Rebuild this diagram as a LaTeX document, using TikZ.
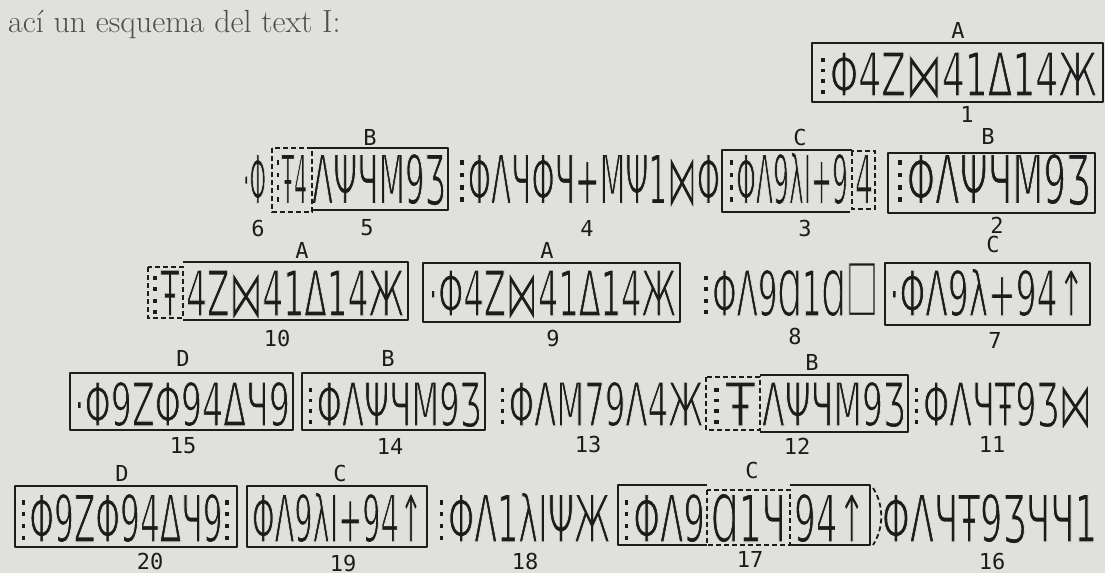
\documentclass[tikz,border=0pt]{standalone}
\usepackage{fontspec}
\usepackage{graphicx}
\newfontfamily\ib{DejaVu Sans}
\newfontfamily\lbf{DejaVu Sans Mono}
\definecolor{paper}{RGB}{224,224,220}
\definecolor{ink}{RGB}{28,28,28}
\definecolor{hdr}{RGB}{78,78,78}
\newcommand\thinit{\special{pdf:literal direct 2 Tr 0.878 0.878 0.863 RG 0.22 w}}
\newcommand\inkrg{\special{pdf:literal direct 0.11 0.11 0.11 RG}}
\newcommand\ibt[3]{\resizebox{#1pt}{#2pt}{\thinit\ib\smash{#3}\rule{0pt}{0.73em}}}
\newcommand\bw{\raisebox{-0.04em}{\scalebox{1}[1.12]{\thinit⋈}}\thinit}
\newcommand\sdot{\rule{0.11em}{0.065em}\kern-0.11em}
\newcommand\dts{\inkrg\kern0.08em\raisebox{0.03em}{\sdot}\raisebox{0.21em}{\sdot}\raisebox{0.39em}{\sdot}\raisebox{0.57em}{\sdot}\kern0.25em\thinit}
\newcommand\sq{\raisebox{0.14em}{\scalebox{1.1}{\thinit□}}\thinit}
\tikzset{
  gl/.style={anchor=base west, inner sep=0pt, outer sep=0pt, text=ink},
  lab/.style={inner sep=0pt, text=ink, font=\lbf\fontsize{22}{22}\selectfont},
  bx/.style={draw=ink, line width=2.2pt, line join=round},
  dbx/.style={draw=ink, line width=1.8pt, dash pattern=on 5pt off 3pt},
}
\begin{document}
\begin{tikzpicture}[x=1pt,y=-1pt]
\useasboundingbox (0,0) rectangle (1105,573);
\fill[paper] (0,0) rectangle (1105,573);
\node[anchor=base west, inner sep=0pt, text=hdr, font=\fontsize{32}{32}\selectfont] (hdr) at (8,32) {ací un esquema del text I:};

% row 1
\node[gl] (t1) at (818,96) {\ibt{279}{44}{\dts Φ4Z\bw41Δ14Ж}};
\draw[bx] (812,43) rectangle (1103,102);
\node[lab] (l1a) at (958,30) {A};
\node[lab] (l1b) at (967,114) {1};

% row 2
\node[gl] (t6) at (243,204) {\ibt{23}{50}{·Φ}};
\node[gl] (t5a) at (275,204) {\ibt{32}{50}{\dts Ŧ4}};
\node[gl] (t5) at (312,204) {\ibt{133}{50}{ΛΨЧΜ9Ʒ}};
\node[gl] (t4) at (458,204) {\ibt{262}{50}{\dts ΦΛЧΦЧ+ΜΨ1\bw Φ}};
\node[gl] (t3) at (728,204) {\ibt{120}{50}{\dts ΦΛ9λI+9}};
\node[gl] (t3a) at (855,204) {\ibt{18}{50}{4}};
\node[gl] (t2) at (895,204) {\ibt{195}{50}{\dts ΦΛΨЧΜ9Ʒ}};
\draw[dbx] (272,148) rectangle (312,212);
\draw[bx] (312,148) -- (448,148) -- (448,210) -- (312,210);
\draw[bx] (852,150) -- (722,150) -- (722,212) -- (850,212);
\draw[dbx] (852,151) rectangle (875,209);
\draw[bx] (888,153) rectangle (1095,213);
\node[lab] (l5a) at (370,137) {B};
\node[lab] (l3a) at (800,137) {C};
\node[lab] (l2a) at (988,136) {B};
\node[lab] (l6) at (258,228) {6};
\node[lab] (l5) at (367,228) {5};
\node[lab] (l4) at (587,228) {4};
\node[lab] (l3) at (805,228) {3};
\node[lab] (l2) at (997,225) {2};

% row 3
\node[gl] (t10a) at (151,316) {\ibt{28}{46}{\dts Ŧ}};
\node[gl] (t10) at (186,316) {\ibt{218}{46}{4Z\bw41Δ14Ж}};
\node[gl] (t9) at (428,316) {\ibt{248}{46}{·Φ4Z\bw41Δ14Ж}};
\node[gl] (t8) at (702,316) {\ibt{176}{46}{\dts ΦΛ9Ɑ1Ɑ\sq}};
\node[gl] (t7) at (889,316) {\ibt{196}{46}{·ΦΛ9λ+94↑}};
\draw[dbx] (148,267) rectangle (183,318);
\draw[bx] (183,262) -- (408,262) -- (408,320) -- (183,320);
\draw[bx] (423,263) rectangle (680,322);
\draw[bx] (885,263) rectangle (1090,325);
\node[lab] (l10a) at (302,250) {A};
\node[lab] (l9a) at (547,250) {A};
\node[lab] (l7a) at (993,244) {C};
\node[lab] (l10) at (277,338) {10};
\node[lab] (l9) at (553,338) {9};
\node[lab] (l8) at (795,336) {8};
\node[lab] (l7) at (995,340) {7};

% row 4
\node[gl] (t15) at (74,426) {\ibt{216}{44}{·Φ9ZΦ94ΔЧ9}};
\node[gl] (t14) at (306,426) {\ibt{175}{44}{\dts ΦΛΨЧΜ9Ʒ}};
\node[gl] (t13) at (498,426) {\ibt{205}{44}{\dts ΦΛΜ79Λ4Ж}};
\node[gl] (t12a) at (710,426) {\ibt{45}{44}{\dts Ŧ}};
\node[gl] (t12) at (762,426) {\ibt{143}{44}{ΛΨЧΜ9Ʒ}};
\node[gl] (t11) at (912,426) {\ibt{180}{44}{\dts ΦΛЧŦ9Ʒ\bw}};
\draw[bx] (70,373) rectangle (293,430);
\draw[bx] (302,373) rectangle (485,430);
\draw[dbx] (706,377) rectangle (760,430);
\draw[bx] (760,375) -- (908,375) -- (908,432) -- (760,432);
\node[lab] (l15a) at (183,358) {D};
\node[lab] (l14a) at (388,358) {B};
\node[lab] (l12a) at (812,362) {B};
\node[lab] (l15) at (183,446) {15};
\node[lab] (l14) at (390,446) {14};
\node[lab] (l13) at (588,444) {13};
\node[lab] (l12) at (797,446) {12};
\node[lab] (l11) at (992,444) {11};

% row 5
\node[gl] (t20) at (19,542) {\ibt{214}{48}{\dts Φ9ZΦ94ΔЧ9\dts}};
\node[gl] (t19) at (252,542) {\ibt{171}{48}{ΦΛ9λI+94↑}};
\node[gl] (t18) at (437,542) {\ibt{173}{48}{\dts ΦΛ1λIΨЖ}};
\node[gl] (t17a) at (622,542) {\ibt{83}{48}{\dts ΦΛ9}};
\node[gl] (t17b) at (711,542) {\ibt{75}{48}{Ɑ1Ч}};
\node[gl] (t17c) at (794,542) {\ibt{72}{48}{94↑}};
\node[gl] (t16) at (882,542) {\ibt{215}{48}{ΦΛЧŦ9ƷЧЧ1}};
\draw[bx] (15,486) rectangle (237,547);
\draw[bx] (247,486) rectangle (427,547);
\draw[bx] (707,485) -- (618,485) -- (618,545) -- (707,545);
\draw[dbx] (707,490) rectangle (790,545);
\draw[bx] (790,485) -- (870,485) -- (870,545) -- (790,545);
\draw[dbx] (873,488) .. controls (884,505) and (884,528) .. (873,545);
\node[lab] (l20a) at (122,473) {D};
\node[lab] (l19a) at (340,473) {C};
\node[lab] (l17a) at (752,470) {C};
\node[lab] (l20) at (150,561) {20};
\node[lab] (l19) at (343,563) {19};
\node[lab] (l18) at (525,561) {18};
\node[lab] (l17) at (750,559) {17};
\node[lab] (l16) at (992,561) {16};
\end{tikzpicture}
\end{document}
